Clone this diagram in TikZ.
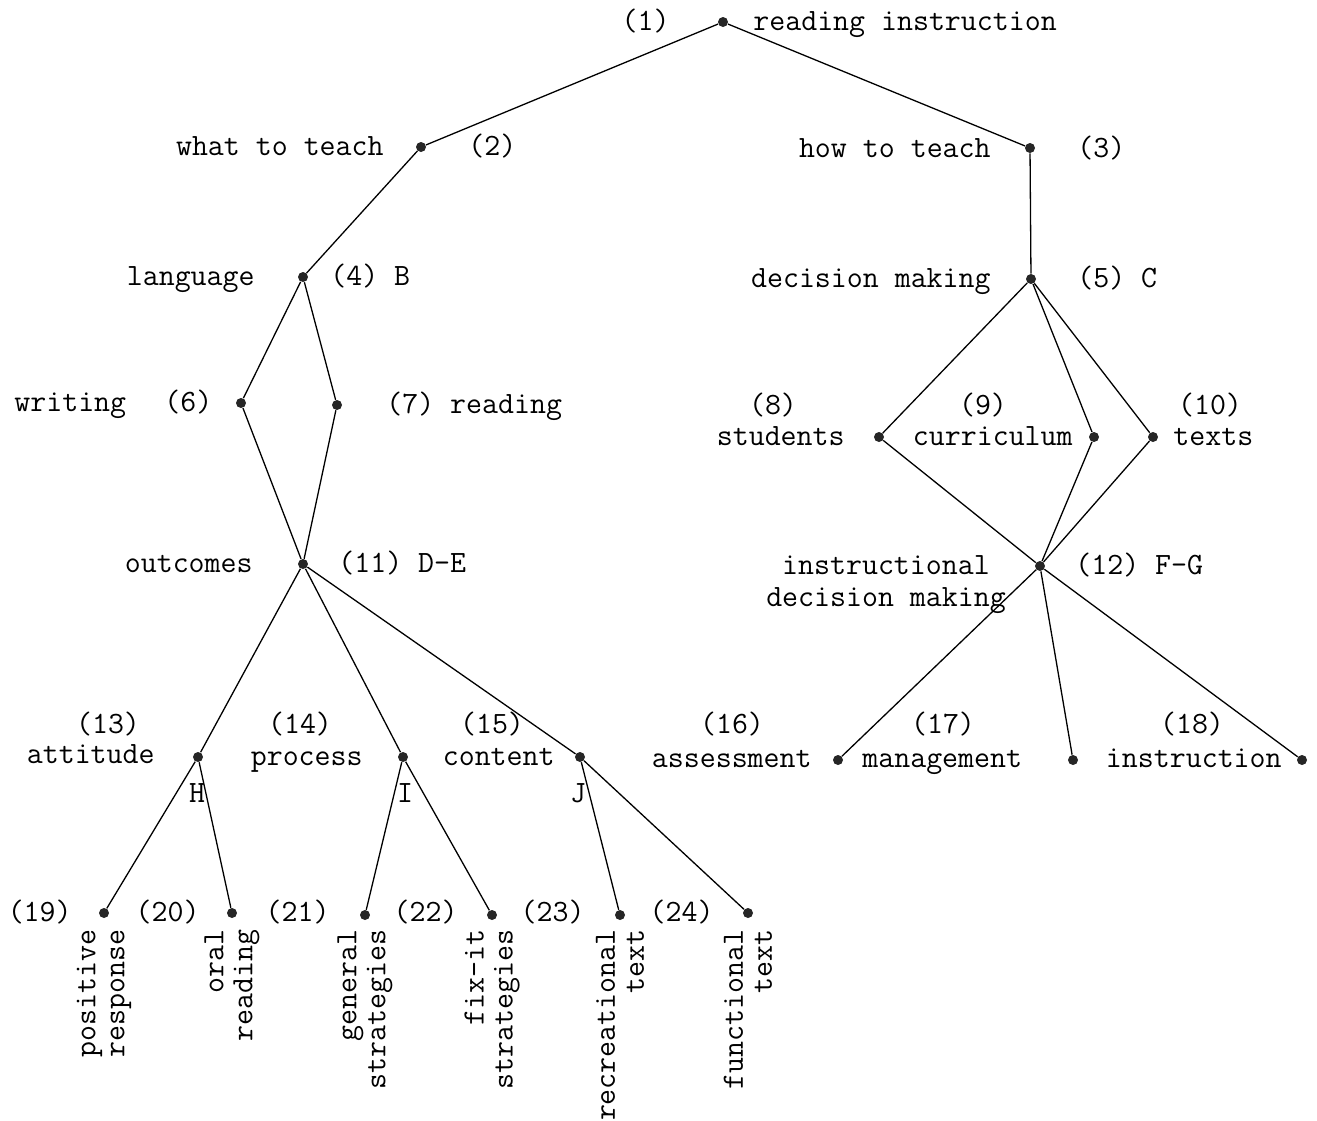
\documentclass[tikz,border=0pt]{standalone}
\usepackage{tikz}
\usetikzlibrary{positioning}
\begin{document}
\begin{tikzpicture}[x=0.5pt,y=-0.5pt,
  dot/.style={circle,fill=black!85,inner sep=0pt,minimum size=5pt},
  lbl/.style={inner sep=0pt,yshift=-2pt,font=\fontsize{15.5}{16}\selectfont\ttfamily},
  vlbl/.style={inner sep=0pt,font=\fontsize{15.5}{14.5}\selectfont\ttfamily,rotate=90,anchor=east,align=right},
  edge/.style={line width=0.65pt}]
\useasboundingbox (0,0) rectangle (1317,1120);
% dots
\node[dot] (n1) at (723,22) {};
\node[dot] (n2) at (421,147) {};
\node[dot] (n3) at (1030,148) {};
\node[dot] (n4) at (303,277) {};
\node[dot] (n5) at (1031,279) {};
\node[dot] (n6) at (241,403) {};
\node[dot] (n7) at (337,405) {};
\node[dot] (n8) at (879,437) {};
\node[dot] (n9) at (1094,437) {};
\node[dot] (n10) at (1153,437) {};
\node[dot] (n11) at (303,564) {};
\node[dot] (n12) at (1040,566) {};
\node[dot] (n13) at (198,757) {};
\node[dot] (n14) at (403,757) {};
\node[dot] (n15) at (580,757) {};
\node[dot] (n16) at (838,760) {};
\node[dot] (n17) at (1073,760) {};
\node[dot] (n18) at (1302,760) {};
\node[dot] (n19) at (104,913) {};
\node[dot] (n20) at (232,913) {};
\node[dot] (n21) at (365,915) {};
\node[dot] (n22) at (492,915) {};
\node[dot] (n23) at (620,915) {};
\node[dot] (n24) at (748,913) {};

% edges
\draw[edge] (n1) -- (n2); \draw[edge] (n1) -- (n3);
\draw[edge] (n2) -- (n4); \draw[edge] (n3) -- (n5);
\draw[edge] (n4) -- (n6); \draw[edge] (n4) -- (n7);
\draw[edge] (n6) -- (n11); \draw[edge] (n7) -- (n11);
\draw[edge] (n5) -- (n8); \draw[edge] (n5) -- (n9); \draw[edge] (n5) -- (n10);
\draw[edge] (n8) -- (n12); \draw[edge] (n9) -- (n12); \draw[edge] (n10) -- (n12);
\draw[edge] (n11) -- (n13); \draw[edge] (n11) -- (n14); \draw[edge] (n11) -- (n15);
\draw[edge] (n12) -- (n16); \draw[edge] (n12) -- (n17); \draw[edge] (n12) -- (n18);
\draw[edge] (n13) -- (n19); \draw[edge] (n13) -- (n20);
\draw[edge] (n14) -- (n21); \draw[edge] (n14) -- (n22);
\draw[edge] (n15) -- (n23); \draw[edge] (n15) -- (n24);

% labels
\node[lbl,anchor=mid east] (l1a) at (670,22) {(1)};
\node[lbl,anchor=mid west] (l1b) at (753,22) {reading instruction};
\node[lbl,anchor=mid east] (l2a) at (384,147) {what to teach};
\node[lbl,anchor=mid west] (l2b) at (468,147) {(2)};
\node[lbl,anchor=mid east] (l3a) at (991,149) {how to teach};
\node[lbl,anchor=mid west] (l3b) at (1077,149) {(3)};
\node[lbl,anchor=mid east] (l4a) at (255,277) {language};
\node[lbl,anchor=mid west] (l4b) at (330,277) {(4) B};
\node[lbl,anchor=mid east] (l5a) at (991,279) {decision making};
\node[lbl,anchor=mid west] (l5b) at (1077,279) {(5) C};
\node[lbl,anchor=mid west] (l6a) at (14,403) {writing};
\node[lbl,anchor=mid west] (l6b) at (164,403) {(6)};
\node[lbl,anchor=mid west] (l7) at (386,405) {(7) reading};
\node[lbl] (l8a) at (773,401) {(8)};
\node[lbl,anchor=mid east] (l8b) at (845,437) {students};
\node[lbl] (l9a) at (983,401) {(9)};
\node[lbl,anchor=mid east] (l9b) at (1073,437) {curriculum};
\node[lbl] (l10a) at (1210,401) {(10)};
\node[lbl,anchor=mid west] (l10b) at (1173,437) {texts};
\node[lbl,anchor=mid east] (l11a) at (253,564) {outcomes};
\node[lbl,anchor=mid west] (l11b) at (338,564) {(11) D-E};
\node[lbl,align=center] (l12a) at (886,581) {instructional\\decision making};
\node[lbl,anchor=mid west] (l12b) at (1075,566) {(12) F-G};
\node[lbl] (l13a) at (108,720) {(13)};
\node[lbl,anchor=mid east] (l13b) at (155,755) {attitude};
\node[lbl] (l13c) at (197,789) {H};
\node[lbl] (l14a) at (300,720) {(14)};
\node[lbl,anchor=mid east] (l14b) at (363,757) {process};
\node[lbl] (l14c) at (405,789) {I};
\node[lbl] (l15a) at (492,720) {(15)};
\node[lbl,anchor=mid east] (l15b) at (555,757) {content};
\node[lbl] (l15c) at (578,789) {J};
\node[lbl] (l16a) at (732,720) {(16)};
\node[lbl,anchor=mid east] (l16b) at (812,759) {assessment};
\node[lbl] (l17a) at (943,720) {(17)};
\node[lbl,anchor=mid west] (l17b) at (862,759) {management};
\node[lbl] (l18a) at (1192,720) {(18)};
\node[lbl,anchor=mid east] (l18b) at (1282,759) {instruction};
\node[lbl,anchor=mid east] (l19a) at (72,913) {(19)};
\node[lbl,anchor=mid east] (l20a) at (200,913) {(20)};
\node[lbl,anchor=mid east] (l21a) at (330,913) {(21)};
\node[lbl,anchor=mid east] (l22a) at (458,913) {(22)};
\node[lbl,anchor=mid east] (l23a) at (585,913) {(23)};
\node[lbl,anchor=mid east] (l24a) at (714,913) {(24)};
\node[vlbl] (l19b) at (104,929) {positive\\response};
\node[vlbl] (l20b) at (232,929) {oral\\reading};
\node[vlbl] (l21b) at (365,929) {general\\strategies};
\node[vlbl] (l22b) at (492,929) {fix-it\\strategies};
\node[vlbl] (l23b) at (620,929) {recreational\\text};
\node[vlbl] (l24b) at (748,929) {functional\\text};
\end{tikzpicture}
\end{document}
